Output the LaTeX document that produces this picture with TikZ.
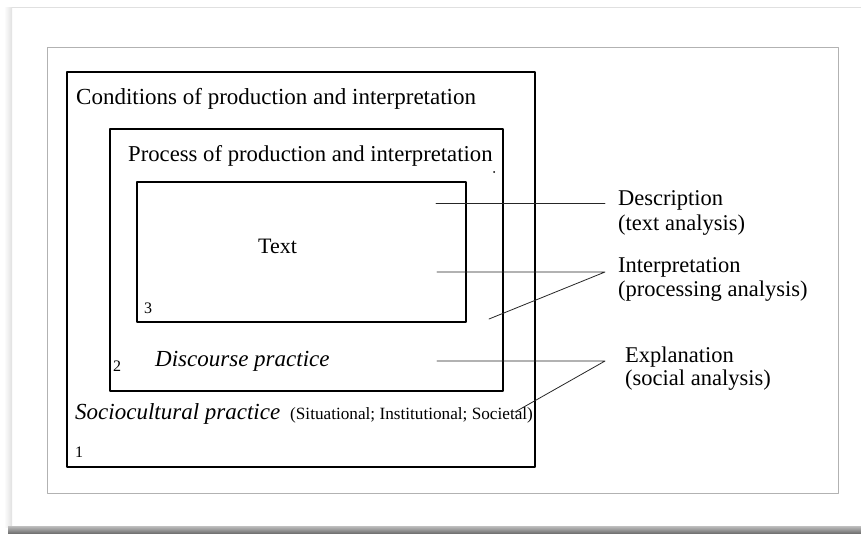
\documentclass[tikz,border=0pt]{standalone}
\usepackage{fontspec}
\setmainfont{Liberation Serif}
\usetikzlibrary{positioning}

\begin{document}
\begin{tikzpicture}[
  x=1pt,y=-1pt,
  line cap=round,line join=round,
  frame/.style={line width=1.7pt,black},
  lead/.style={line width=0.8pt,black!85},
  boxtitle/.style={anchor=base west,inner sep=0pt,
    font=\fontsize{23}{27}\selectfont},
  boxnum/.style={anchor=base west,inner sep=0pt,
    font=\fontsize{16}{19}\selectfont},
  levellabel/.style={anchor=base west,inner sep=0pt,
    font=\fontsize{22.5}{26}\selectfont}
]
  \useasboundingbox (0,0) rectangle (861,533);

  % Page card and its shadow.
  \fill[white] (0,0) rectangle (861,533);
  \shade[left color=white,right color=black!12] (4,7) rectangle (12,527);
  \draw[black!12,line width=0.6pt] (12,7) -- (861,7);
  \shade[top color=black!25,bottom color=black!55] (8,526) rectangle (861,533);
  \draw[black!30,line width=0.8pt] (47,47) rectangle (838,493);

  % The three nested levels.
  \draw[frame] (67,72) rectangle (535,467);
  \draw[frame] (110,129) rectangle (503,391);
  \draw[frame] (137,182) rectangle (466,322);
  \fill (494,172) circle[radius=1pt];

  \node[boxtitle] (cond) at (76,104)
    {Conditions of production and interpretation};
  \node[boxtitle,font=\fontsize{22.7}{27}\selectfont] (proc) at (128,161)
    {Process of production and interpretation};
  \node[boxtitle,font=\fontsize{22}{26}\selectfont] (text) at (258,253) {Text};
  \node[boxtitle,font=\fontsize{23}{27}\selectfont\itshape] (disc) at (155,366)
    {Discourse practice};
  \node[boxtitle,font=\fontsize{23}{27}\selectfont\itshape] (socio) at (75,419)
    {Sociocultural practice};
  \node[boxtitle,font=\fontsize{17.2}{20}\selectfont] (sit) at (290,419)
    {(Situational; Institutional; Societal)};

  \node[boxnum] (num3) at (144,313) {3};
  \node[boxnum] (num2) at (113,371) {2};
  \node[boxnum] (num1) at (75,457) {1};

  % Dimensions of analysis.
  \node[levellabel] (desc) at (618,205) {Description};
  \node[levellabel] (descsub) at ([yshift=-25pt]desc.base west)
    {(text analysis)};
  \node[levellabel] (interp) at (618,272) {Interpretation};
  \node[levellabel] (interpsub) at ([yshift=-24pt]interp.base west)
    {(processing analysis)};
  \node[levellabel] (expl) at (625,362) {Explanation};
  \node[levellabel] (explsub) at ([yshift=-23pt]expl.base west)
    {(social analysis)};

  \coordinate (sD) at (436,203);
  \coordinate (sI) at (437,272);
  \coordinate (sE) at (437,361);
  \coordinate (jD) at (605,203);
  \coordinate (jI) at (605,272);
  \coordinate (jE) at (605,361);
  \coordinate (eI) at (489,319);
  \coordinate (eE) at (515,412);

  \draw[lead] (sD) -- (jD);
  \draw[lead] (sI) -- (jI) -- (eI);
  \draw[lead] (sE) -- (jE) -- (eE);
\end{tikzpicture}
\end{document}
